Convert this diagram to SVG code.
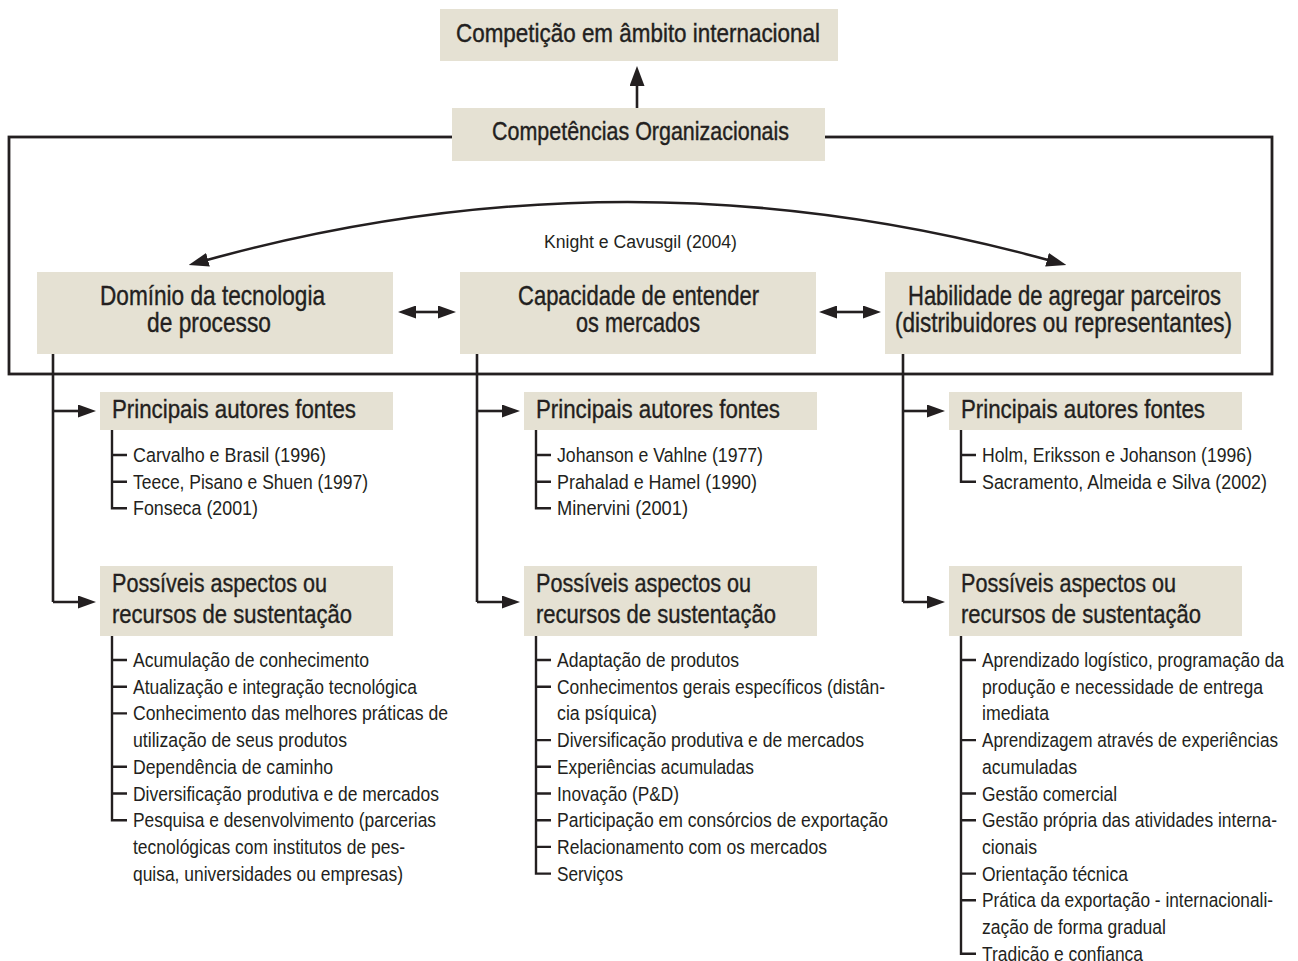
<svg xmlns="http://www.w3.org/2000/svg" width="1298" height="961" viewBox="0 0 1298 961">
<style>
.box{fill:#e5e1d3}
.ln{stroke:#231f20;stroke-width:2.6;fill:none}
.tr{stroke:#231f20;stroke-width:2.4;fill:none}
text{font-family:"Liberation Sans",Arial,sans-serif;fill:#231f20}
.h{font-size:26px;stroke:#231f20;stroke-width:0.4}
.m{font-size:28px;stroke:#231f20;stroke-width:0.4}
.s{font-size:26px;stroke:#231f20;stroke-width:0.35}
.i{font-size:20.5px}
.k{font-size:18px}
</style>
<defs>
<marker id="arr" viewBox="0 0 20 14" refX="1" refY="7" markerWidth="20" markerHeight="14" markerUnits="userSpaceOnUse" orient="auto-start-reverse">
<path d="M0,0 L20,7 L0,14 z" fill="#231f20"/>
</marker>
<marker id="arrS" viewBox="0 0 18 13" refX="1" refY="6.5" markerWidth="18" markerHeight="13" markerUnits="userSpaceOnUse" orient="auto-start-reverse">
<path d="M0,0 L18,6.5 L0,13 z" fill="#231f20"/>
</marker>
<marker id="arrB" viewBox="0 0 20 15" refX="1" refY="7.5" markerWidth="20" markerHeight="15" markerUnits="userSpaceOnUse" orient="auto">
<path d="M0,0 L20,7.5 L0,15 z" fill="#231f20"/>
</marker>
</defs>

<g id="frame">
<rect x="9" y="137" width="1263" height="237" fill="none" stroke="#231f20" stroke-width="2.8"/>
</g>

<g id="connectors">
<path class="ln" d="M637,108 L637,85" marker-end="url(#arrB)"/>
<path class="ln" d="M207,260 Q627.5,144 1048,260" marker-start="url(#arr)" marker-end="url(#arr)"/>
<path class="ln" d="M415,312 L439,312" marker-start="url(#arrS)" marker-end="url(#arrS)"/>
<path class="ln" d="M836,312 L864,312" marker-start="url(#arrS)" marker-end="url(#arrS)"/>
<path class="ln" d="M53,353 L53,602 M53,602 L79,602" marker-end="url(#arrS)"/>
<path class="ln" d="M53,411 L79,411" marker-end="url(#arrS)"/>
<path class="ln" d="M477,353 L477,602 M477,602 L503,602" marker-end="url(#arrS)"/>
<path class="ln" d="M477,411 L503,411" marker-end="url(#arrS)"/>
<path class="ln" d="M903,353 L903,602 M903,602 L928,602" marker-end="url(#arrS)"/>
<path class="ln" d="M903,411 L928,411" marker-end="url(#arrS)"/>
</g>

<g id="n-top">
<rect class="box" x="440" y="9" width="398" height="52"/>
<text class="h" x="456" y="42" textLength="364" lengthAdjust="spacingAndGlyphs">Competição em âmbito internacional</text>
</g>

<g id="n-comp">
<rect class="box" x="452" y="108" width="373" height="53"/>
<text class="h" x="492" y="140" textLength="297" lengthAdjust="spacingAndGlyphs">Competências Organizacionais</text>
</g>

<g id="n-knight">
<text class="k" x="544" y="248" textLength="193" lengthAdjust="spacingAndGlyphs">Knight e Cavusgil (2004)</text>
</g>

<g id="n-dominio">
<rect class="box" x="37" y="272" width="356" height="82"/>
<text class="m" x="100" y="305" textLength="225" lengthAdjust="spacingAndGlyphs">Domínio da tecnologia</text>
<text class="m" x="147" y="332" textLength="124" lengthAdjust="spacingAndGlyphs">de processo</text>
</g>

<g id="n-capacidade">
<rect class="box" x="460" y="272" width="356" height="82"/>
<text class="m" x="518" y="305" textLength="241" lengthAdjust="spacingAndGlyphs">Capacidade de entender</text>
<text class="m" x="576" y="332" textLength="124" lengthAdjust="spacingAndGlyphs">os mercados</text>
</g>

<g id="n-habilidade">
<rect class="box" x="885" y="272" width="356" height="82"/>
<text class="m" x="908" y="305" textLength="313" lengthAdjust="spacingAndGlyphs">Habilidade de agregar parceiros</text>
<text class="m" x="895" y="332" textLength="337" lengthAdjust="spacingAndGlyphs">(distribuidores ou representantes)</text>
</g>

<!-- Column 1 -->
<g id="n-autores-1">
<rect class="box" x="100" y="392" width="293" height="38"/>
<text class="s" x="112" y="418" textLength="244" lengthAdjust="spacingAndGlyphs">Principais autores fontes</text>
<path class="tr" d="M112,430 L112,508.3 L127,508.3 M112,455 L127,455 M112,481.7 L127,481.7"/>
<text class="i" x="133" y="462" textLength="193" lengthAdjust="spacingAndGlyphs">Carvalho e Brasil (1996)</text>
<text class="i" x="133" y="488.7" textLength="235" lengthAdjust="spacingAndGlyphs">Teece, Pisano e Shuen (1997)</text>
<text class="i" x="133" y="515.3" textLength="125" lengthAdjust="spacingAndGlyphs">Fonseca (2001)</text>
</g>

<g id="n-aspectos-1">
<rect class="box" x="100" y="566" width="293" height="70"/>
<text class="s" x="112" y="592" textLength="215" lengthAdjust="spacingAndGlyphs">Possíveis aspectos ou</text>
<text class="s" x="112" y="623" textLength="240" lengthAdjust="spacingAndGlyphs">recursos de sustentação</text>
<path class="tr" d="M112,636 L112,820.2 L127,820.2 M112,660 L127,660 M112,686.7 L127,686.7 M112,713.4 L127,713.4 M112,766.8 L127,766.8 M112,793.5 L127,793.5"/>
<text class="i" x="133" y="667" textLength="236" lengthAdjust="spacingAndGlyphs">Acumulação de conhecimento</text>
<text class="i" x="133" y="693.7" textLength="284" lengthAdjust="spacingAndGlyphs">Atualização e integração tecnológica</text>
<text class="i" x="133" y="720.4" textLength="315" lengthAdjust="spacingAndGlyphs">Conhecimento das melhores práticas de</text>
<text class="i" x="133" y="747.1" textLength="214" lengthAdjust="spacingAndGlyphs">utilização de seus produtos</text>
<text class="i" x="133" y="773.8" textLength="200" lengthAdjust="spacingAndGlyphs">Dependência de caminho</text>
<text class="i" x="133" y="800.5" textLength="306" lengthAdjust="spacingAndGlyphs">Diversificação produtiva e de mercados</text>
<text class="i" x="133" y="827.2" textLength="303" lengthAdjust="spacingAndGlyphs">Pesquisa e desenvolvimento (parcerias</text>
<text class="i" x="133" y="853.9" textLength="272" lengthAdjust="spacingAndGlyphs">tecnológicas com institutos de pes-</text>
<text class="i" x="133" y="880.6" textLength="270" lengthAdjust="spacingAndGlyphs">quisa, universidades ou empresas)</text>
</g>

<!-- Column 2 -->
<g id="n-autores-2">
<rect class="box" x="524" y="392" width="293" height="38"/>
<text class="s" x="536" y="418" textLength="244" lengthAdjust="spacingAndGlyphs">Principais autores fontes</text>
<path class="tr" d="M536,430 L536,508.3 L551,508.3 M536,455 L551,455 M536,481.7 L551,481.7"/>
<text class="i" x="557" y="462" textLength="206" lengthAdjust="spacingAndGlyphs">Johanson e Vahlne (1977)</text>
<text class="i" x="557" y="488.7" textLength="200" lengthAdjust="spacingAndGlyphs">Prahalad e Hamel (1990)</text>
<text class="i" x="557" y="515.3" textLength="131" lengthAdjust="spacingAndGlyphs">Minervini (2001)</text>
</g>

<g id="n-aspectos-2">
<rect class="box" x="524" y="566" width="293" height="70"/>
<text class="s" x="536" y="592" textLength="215" lengthAdjust="spacingAndGlyphs">Possíveis aspectos ou</text>
<text class="s" x="536" y="623" textLength="240" lengthAdjust="spacingAndGlyphs">recursos de sustentação</text>
<path class="tr" d="M536,636 L536,873.6 L551,873.6 M536,660 L551,660 M536,686.7 L551,686.7 M536,740.1 L551,740.1 M536,766.8 L551,766.8 M536,793.5 L551,793.5 M536,820.2 L551,820.2 M536,846.9 L551,846.9"/>
<text class="i" x="557" y="667" textLength="182" lengthAdjust="spacingAndGlyphs">Adaptação de produtos</text>
<text class="i" x="557" y="693.7" textLength="328" lengthAdjust="spacingAndGlyphs">Conhecimentos gerais específicos (distân-</text>
<text class="i" x="557" y="720.4" textLength="100" lengthAdjust="spacingAndGlyphs">cia psíquica)</text>
<text class="i" x="557" y="747.1" textLength="307" lengthAdjust="spacingAndGlyphs">Diversificação produtiva e de mercados</text>
<text class="i" x="557" y="773.8" textLength="197" lengthAdjust="spacingAndGlyphs">Experiências acumuladas</text>
<text class="i" x="557" y="800.5" textLength="122" lengthAdjust="spacingAndGlyphs">Inovação (P&amp;D)</text>
<text class="i" x="557" y="827.2" textLength="331" lengthAdjust="spacingAndGlyphs">Participação em consórcios de exportação</text>
<text class="i" x="557" y="853.9" textLength="270" lengthAdjust="spacingAndGlyphs">Relacionamento com os mercados</text>
<text class="i" x="557" y="880.6" textLength="66" lengthAdjust="spacingAndGlyphs">Serviços</text>
</g>

<!-- Column 3 -->
<g id="n-autores-3">
<rect class="box" x="949" y="392" width="293" height="38"/>
<text class="s" x="961" y="418" textLength="244" lengthAdjust="spacingAndGlyphs">Principais autores fontes</text>
<path class="tr" d="M961,430 L961,481.7 L976,481.7 M961,455 L976,455"/>
<text class="i" x="982" y="462" textLength="270" lengthAdjust="spacingAndGlyphs">Holm, Eriksson e Johanson (1996)</text>
<text class="i" x="982" y="488.7" textLength="285" lengthAdjust="spacingAndGlyphs">Sacramento, Almeida e Silva (2002)</text>
</g>

<g id="n-aspectos-3">
<rect class="box" x="949" y="566" width="293" height="70"/>
<text class="s" x="961" y="592" textLength="215" lengthAdjust="spacingAndGlyphs">Possíveis aspectos ou</text>
<text class="s" x="961" y="623" textLength="240" lengthAdjust="spacingAndGlyphs">recursos de sustentação</text>
<path class="tr" d="M961,636 L961,953.7 L976,953.7 M961,660 L976,660 M961,740.1 L976,740.1 M961,793.5 L976,793.5 M961,820.2 L976,820.2 M961,873.6 L976,873.6 M961,900.3 L976,900.3"/>
<text class="i" x="982" y="667" textLength="302" lengthAdjust="spacingAndGlyphs">Aprendizado logístico, programação da</text>
<text class="i" x="982" y="693.7" textLength="281" lengthAdjust="spacingAndGlyphs">produção e necessidade de entrega</text>
<text class="i" x="982" y="720.4" textLength="67" lengthAdjust="spacingAndGlyphs">imediata</text>
<text class="i" x="982" y="747.1" textLength="296" lengthAdjust="spacingAndGlyphs">Aprendizagem através de experiências</text>
<text class="i" x="982" y="773.8" textLength="95" lengthAdjust="spacingAndGlyphs">acumuladas</text>
<text class="i" x="982" y="800.5" textLength="135" lengthAdjust="spacingAndGlyphs">Gestão comercial</text>
<text class="i" x="982" y="827.2" textLength="295" lengthAdjust="spacingAndGlyphs">Gestão própria das atividades interna-</text>
<text class="i" x="982" y="853.9" textLength="55" lengthAdjust="spacingAndGlyphs">cionais</text>
<text class="i" x="982" y="880.6" textLength="146" lengthAdjust="spacingAndGlyphs">Orientação técnica</text>
<text class="i" x="982" y="907.3" textLength="291" lengthAdjust="spacingAndGlyphs">Prática da exportação - internacionali-</text>
<text class="i" x="982" y="934" textLength="184" lengthAdjust="spacingAndGlyphs">zação de forma gradual</text>
<text class="i" x="982" y="960.7" textLength="161" lengthAdjust="spacingAndGlyphs">Tradição e confiança</text>
</g>
</svg>
